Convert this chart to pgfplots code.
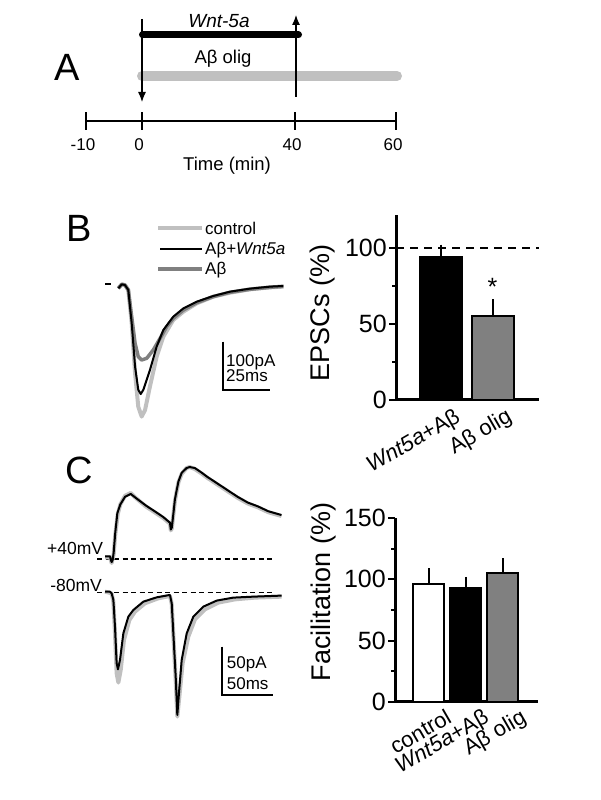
\documentclass[border=0pt]{standalone}
\usepackage{pgfplots}
\pgfplotsset{compat=1.18}
\usetikzlibrary{arrows.meta}
\usepackage{fontspec}
\setmainfont{Liberation Sans}
\newcommand{\fs}[1]{\fontsize{#1}{#1}\selectfont}
\definecolor{lgray}{HTML}{C0C0C0}
\definecolor{dgray}{HTML}{808080}

\begin{document}
\begin{tikzpicture}
\useasboundingbox (0pt,0pt) rectangle (600pt,800pt);
\pgfplotsset{
  trace/.style={anchor=south west, scale only axis, hide axis, clip=false},
  bars/.style={anchor=south west, scale only axis, clip=false,
    axis x line=bottom, axis y line=left, axis line style={-, line width=3pt},
    tick align=outside, major tick length=7pt, minor tick length=4pt,
    tick style={black, line width=2pt},
    xtick style={draw=none},
    /pgf/number format/assume math mode=true,
    yticklabel style={font=\fs{25}, inner sep=2pt},
    xticklabel style={font=\fs{22}, rotate=30, anchor=north east, inner sep=0pt},
    every axis y label/.style={rotate=90, anchor=center, font=\fs{27}},
  },
  barerr/.style={ybar, bar shift=0pt, draw=black, line width=2pt,
    error bars/y dir=plus, error bars/y explicit,
    error bars/error bar style={line width=2pt, black},
    error bars/error mark options={line width=2pt, mark size=5pt, black}},
}

% ---------- panel A: protocol
\node[font=\fs{38}] at (67.5pt,732.5pt) {A};
\begin{axis}[anchor=south west, at={(86pt,679pt)}, scale only axis,
  width=310pt, height=111pt, clip=false,
  xmin=86, xmax=396, ymin=0, ymax=111,
  axis x line=bottom, axis y line=none, axis line style={-, line width=2pt},
  xtick={86,142,295,396}, xticklabels={-10,0,40,60},
  tick align=center, major tick length=18pt, tick style={line width=2pt, black},
  xticklabel style={font=\fs{17}, anchor=center, yshift=-15pt, xshift=-3pt},
  every axis x label/.style={at={(axis description cs:0.455,0)}, anchor=center,
    yshift=-45pt, font=\fs{18.5}},
  xlabel={Time (min)}]
\addplot[lgray, line width=10pt, line cap=round] coordinates {(142,45) (397,45)};
\addplot[black, line width=7pt, line cap=round] coordinates {(142.5,86) (298.5,86)};
\addplot[black, line width=1.2pt, -{Latex[length=10pt,width=8pt]}] coordinates {(142,102) (142,19)};
\addplot[black, line width=1.2pt, -{Latex[length=10pt,width=8pt]}] coordinates {(296,24) (296,106)};
\end{axis}
\node[font=\fs{19}\itshape] at (219pt,778.5pt) {Wnt-5a};
\node[font=\fs{18.5}, anchor=base] at (223pt,736.7pt) {Aβ olig};

% ---------- panel B: traces
\node[font=\fs{38}] at (79pt,571.5pt) {B};
\begin{axis}[trace, at={(105pt,378.7pt)}, width=178.6pt, height=141pt,
  xmin=0, xmax=95, ymin=-290, ymax=10]
\addplot[lgray, line width=4pt, line join=round] coordinates {
 (7.1,-7.1) (8.9,1.4) (10.6,0) (12.4,-10.6) (14.2,-81.6) (16.0,-188) (17.7,-259)
 (19.5,-280) (21.3,-266) (23.9,-216) (27.5,-152) (31.0,-110) (36.3,-74.5)
 (41.7,-56.7) (48.8,-39) (57.6,-24.8) (66.5,-16.3) (77.1,-9.2) (87.8,-5.0) (94.9,-3.5)};
\addplot[dgray, line width=3.5pt, line join=round] coordinates {
 (7.1,-7.1) (8.9,1.4) (10.6,0) (12.4,-10.6) (14.2,-67.4) (16.0,-124) (17.7,-152.5)
 (19.5,-159.6) (22.2,-156) (25.7,-138) (29.3,-113.5) (32.8,-88.7) (36.3,-71)
 (41.7,-53.2) (48.8,-37.6) (57.6,-24.8) (66.5,-15.6) (77.1,-9.2) (87.8,-5.0) (94.9,-2.8)};
\addplot[black, line width=2pt, line join=round] coordinates {
 (7.1,-7.1) (8.9,1.4) (10.6,0) (12.4,-10.6) (14.2,-81.6) (16.0,-174) (17.7,-223)
 (19.0,-232) (20.4,-223) (23.9,-181) (27.5,-131) (31.0,-96) (36.3,-67.4)
 (41.7,-49.7) (48.8,-35.5) (57.6,-23.4) (66.5,-14.2) (77.1,-7.8) (87.8,-3.5) (94.9,-2.1)};
\addplot[black, line width=2pt] coordinates {(0,1.4) (3,1.4)};
\draw[line width=2pt] (axis cs:62.6,-120.7) -- (axis cs:62.6,-222.4) -- (axis cs:87.8,-222.4);
\end{axis}
% legend
\draw[lgray, line width=4pt] (158pt,572pt) -- (202pt,572pt);
\draw[black, line width=2pt] (160pt,551pt) -- (202pt,551pt);
\draw[dgray, line width=4pt] (158pt,531pt) -- (202pt,531pt);
\node[font=\fs{17}, anchor=base west, inner sep=0pt] at (205pt,565.7pt) {control};
\node[font=\fs{17}, anchor=base west, inner sep=0pt] at (205pt,545pt) {Aβ+\textit{Wnt5a}};
\node[font=\fs{17}, anchor=base west, inner sep=0pt] at (205pt,525pt) {Aβ};
\node[font=\fs{17}, anchor=base west, inner sep=0pt] at (226pt,433.3pt) {100pA};
\node[font=\fs{17}, anchor=base west, inner sep=0pt] at (226pt,418.3pt) {25ms};

% ---------- panel B: bars
\begin{axis}[bars, at={(396pt,400pt)}, width=143pt, height=185pt,
  xmin=-0.874, xmax=1.903, ymin=0, ymax=121.7,
  ytick={0,50,100}, minor ytick={25,75},
  xtick={0,1}, xticklabels={{\textit{Wnt5a}+Aβ},{Aβ olig}},
  xticklabel style={xshift=11pt, yshift=-6pt},
  ylabel={EPSCs (\%)},
  every axis y label/.append style={at={(axis description cs:-0.517,0.47)}}]
\addplot[black, line width=2pt, dash pattern=on 8pt off 6pt] coordinates {(-0.874,100) (1.903,100)};
\addplot[barerr, bar width=42pt, fill=black] coordinates {(0,94) +- (0,5)};
\addplot[barerr, bar width=42pt, fill=dgray] coordinates {(1,55) +- (0,8)};
\node[font=\fs{25}] at (axis cs:1,74.3) {*};
\end{axis}

% ---------- panel C: traces
\node[font=\fs{38}] at (79pt,330pt) {C};
\begin{axis}[trace, at={(105pt,233.1pt)}, width=178.5pt, height=105.6pt,
  xmin=0, xmax=175, ymin=-10, ymax=100]
\addplot[black, line width=1.3pt, dash pattern=on 5pt off 3.5pt] coordinates {(-7.8,-1.7) (164.7,-1.7)};
\addplot[lgray, line width=4pt, line join=round] coordinates {
 (0,0) (5,0) (6.5,-6) (8.5,3) (10,23) (12.5,45) (15,55) (19.6,64) (25.2,67) (30,62)
 (40,53) (50,46) (57,41) (63.7,35) (64.5,28) (65.5,30) (67,44) (68.5,58) (70.3,69)
 (72,78) (75.2,87) (80,93) (83,94) (88,92) (95,87) (100,83) (110,76) (120,69)
 (130,62) (140,56) (150,52) (160,47) (173,43)};
\addplot[black, line width=2pt, line join=round] coordinates {
 (0,1) (5,1) (5.5,-2) (6.5,-5) (7.5,-3) (8.5,5) (10,25) (12.1,46) (15,55) (19.6,63)
 (25.2,66) (30,62) (40,54) (50,47) (57,42) (63.7,36) (64.5,29) (65.5,31) (67,45)
 (68.5,60) (70.3,70) (72,79) (75.2,88) (80,93) (83,94) (88,93) (95,88) (100,84)
 (110,77) (120,70) (130,63) (140,57) (150,53) (160,48) (173,44)};
\end{axis}
\begin{axis}[trace, at={(105pt,77.1pt)}, width=178.5pt, height=134.4pt,
  xmin=0, xmax=175, ymin=-135, ymax=5]
\addplot[black, line width=1.3pt, dash pattern=on 5pt off 3.5pt] coordinates {(-7.8,1) (164.7,1)};
\addplot[lgray, line width=4pt, line join=round] coordinates {
 (0,1.7) (6.5,0) (8.2,-8.7) (9.8,-41.7) (11.4,-83.3) (13.1,-93) (15.4,-80) (18.6,-48.6)
 (23.9,-27.8) (29.4,-19.1) (39.2,-10.4) (52.3,-5.2) (63.7,-2.8) (65.4,-11.1) (67.0,-43.4)
 (69.3,-90.3) (70.9,-128.5) (72.9,-107.6) (76.1,-72.9) (81.7,-45.1) (88.2,-27.1)
 (98.0,-16.7) (111.1,-9.7) (127.5,-6.3) (147.1,-4.5) (173.2,-3.5)};
\addplot[black, line width=2pt, line join=round] coordinates {
 (0,1.7) (4.9,1.7) (6.5,0) (8.2,-6.9) (9.8,-34.7) (11.4,-72.9) (12.7,-79.2) (14.7,-69.4)
 (18.0,-41.7) (22.9,-24.3) (27.8,-17.4) (37.6,-8.7) (50.7,-4.2) (63.7,-1.7) (65.4,-10.4)
 (67.0,-41.7) (69.3,-86.8) (70.9,-126.7) (72.5,-104.2) (75.2,-69.4) (80.1,-41.7)
 (86.6,-24.3) (96.4,-13.9) (109.5,-7.6) (125.8,-4.5) (145.4,-3.5) (173.2,-2.4)};
\draw[line width=2pt] (axis cs:115,-55.6) -- (axis cs:115,-105.9) -- (axis cs:165,-105.9);
\end{axis}
\node[font=\fs{17.5}, anchor=base east, inner sep=0pt] at (103.3pt,245pt) {+40mV};
\node[font=\fs{17.5}, anchor=base east, inner sep=0pt] at (102pt,208.3pt) {-80mV};
\node[font=\fs{17}, anchor=base west, inner sep=0pt] at (226.7pt,131.7pt) {50pA};
\node[font=\fs{17}, anchor=base west, inner sep=0pt] at (226.7pt,110.7pt) {50ms};

% ---------- panel C: bars
\begin{axis}[bars, at={(395pt,98pt)}, width=143pt, height=184pt,
  xmin=-0.9, xmax=2.94, ymin=0, ymax=150,
  ytick={0,50,100,150}, minor ytick={25,75,125},
  xtick={0,1,2}, xticklabels={control,{\textit{Wnt5a}+Aβ},{Aβ olig}},
  xticklabel style={xshift=15pt, yshift=-7pt},
  ylabel={Facilitation (\%)},
  every axis y label/.append style={at={(axis description cs:-0.503,0.598)}}]
\addplot[barerr, bar width=31pt, fill=white] coordinates {(0,96) +- (0,9)};
\addplot[barerr, bar width=31pt, fill=black] coordinates {(1,93) +- (0,5)};
\addplot[barerr, bar width=31pt, fill=dgray] coordinates {(2,105) +- (0,8)};
\end{axis}
\end{tikzpicture}
\end{document}
